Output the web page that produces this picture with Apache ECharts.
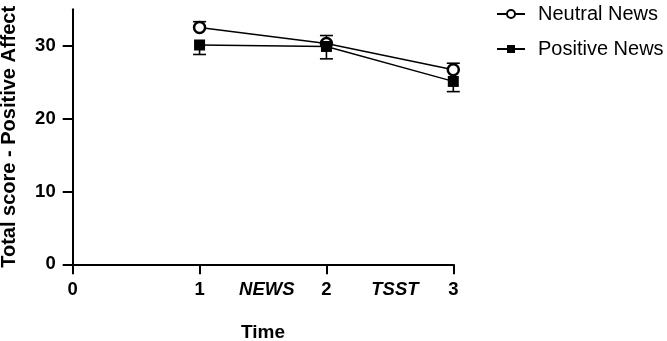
<!DOCTYPE html>
<html>
<head>
<meta charset="utf-8">
<script src="https://cdn.jsdelivr.net/npm/echarts@6/dist/echarts.min.js"></script>
<style>
  html, body { margin: 0; padding: 0; background: #fff; }
  #chart { width: 667px; height: 341px; }
</style>
</head>
<body>
<div id="chart"></div>
<script>
const FONT = 'Liberation Sans, Arial, Helvetica, sans-serif'

// data
const timePoints = [1, 2, 3]
const neutralMean = [32.5, 30.3, 26.7]
const neutralSem = [0.8, 1.1, 0.9]
const positiveMean = [30.1, 29.9, 25.1]
const positiveSem = [1.3, 1.7, 1.4]
const seriesNames = ['Neutral News', 'Positive News']
const yTicks = [0, 10, 20, 30]
const xTicks = [0, 1, 2, 3]
const phaseLabels = { 1.53: 'NEWS', 2.54: 'TSST' }

const chart = echarts.init(document.getElementById('chart'))

// 误差线: dir = 1 向上, -1 向下
function errorBars(mean, sem, dir, id) {
  return {
    type: 'custom',
    id: id,
    silent: true,
    z: 1,
    data: timePoints.map((t, i) => [t, mean[i], sem[i]]),
    renderItem: function (params, api) {
      const x = api.value(0)
      const m = api.value(1)
      const e = api.value(2)
      const p0 = api.coord([x, m])
      const p1 = api.coord([x, m + dir * e])
      const half = 6.5
      const style = { stroke: '#000', lineWidth: 1.6 }
      return {
        type: 'group',
        children: [
          { type: 'line', shape: { x1: p0[0], y1: p0[1], x2: p1[0], y2: p1[1] }, style: style },
          { type: 'line', shape: { x1: p1[0] - half, y1: p1[1], x2: p1[0] + half, y2: p1[1] }, style: style },
        ],
      }
    },
  }
}

const option = {
  animation: false,
  textStyle: { fontFamily: FONT },
  grid: { left: 72.7, right: 213.7, top: 9.3, bottom: 76.7, containLabel: false, outerBoundsMode: 'none' },
  legend: {
    orient: 'vertical',
    left: 491,
    top: -1,
    itemWidth: 28,
    itemHeight: 10,
    itemGap: 15,
    data: seriesNames,
    textStyle: { fontSize: 20, color: '#000', fontFamily: FONT, padding: [0, 0, 0, 8] },
  },
  xAxis: {
    type: 'value',
    min: 0,
    max: 3,
    name: 'Time',
    nameLocation: 'middle',
    nameGap: 59,
    nameTextStyle: { fontSize: 19, fontWeight: 'bold', color: '#000', fontFamily: FONT },
    splitLine: { show: false },
    axisLine: { show: true, onZero: false, lineStyle: { color: '#000', width: 2 } },
    axisTick: { show: true, length: 10, customValues: xTicks, lineStyle: { color: '#000', width: 2 } },
    axisLabel: {
      customValues: xTicks.concat(Object.keys(phaseLabels).map(Number)),
      margin: 16,
      fontSize: 18.5,
      fontWeight: 'bold',
      color: '#000',
      fontFamily: FONT,
      formatter: function (v) {
        const key = Object.keys(phaseLabels).find((k) => Math.abs(Number(k) - v) < 1e-6)
        return key ? '{i|' + phaseLabels[key] + '}' : String(v)
      },
      rich: {
        i: { fontSize: 18.5, fontWeight: 'bold', fontStyle: 'italic', color: '#000', fontFamily: FONT },
      },
    },
  },
  yAxis: {
    type: 'value',
    min: 0,
    max: 35,
    name: 'Total score - Positive Affect',
    nameLocation: 'middle',
    nameGap: 53,
    nameTextStyle: { fontSize: 20, fontWeight: 'bold', color: '#000', fontFamily: FONT },
    splitLine: { show: false },
    axisLine: { show: true, lineStyle: { color: '#000', width: 2 } },
    axisTick: { show: true, length: 10, customValues: yTicks, lineStyle: { color: '#000', width: 2 } },
    axisLabel: {
      customValues: yTicks,
      margin: 17,
      fontSize: 18.5,
      fontWeight: 'bold',
      color: '#000',
      fontFamily: FONT,
    },
  },
  series: [
    errorBars(neutralMean, neutralSem, 1, 'neutralErr'),
    errorBars(positiveMean, positiveSem, -1, 'positiveErr'),
    {
      name: seriesNames[0],
      type: 'line',
      z: 3,
      data: timePoints.map((t, i) => [t, neutralMean[i]]),
      symbol: 'circle',
      symbolSize: 11,
      lineStyle: { color: '#000', width: 1.4 },
      itemStyle: { color: '#fff', borderColor: '#000', borderWidth: 2.5 },
    },
    {
      name: seriesNames[1],
      type: 'line',
      z: 4,
      data: timePoints.map((t, i) => [t, positiveMean[i]]),
      symbol: 'rect',
      symbolSize: 11,
      lineStyle: { color: '#000', width: 1.4 },
      itemStyle: { color: '#000', borderColor: '#000', borderWidth: 0 },
    },
  ],
}

chart.setOption(option)

window.addEventListener('resize', () => chart.resize())
</script>
</body>
</html>
